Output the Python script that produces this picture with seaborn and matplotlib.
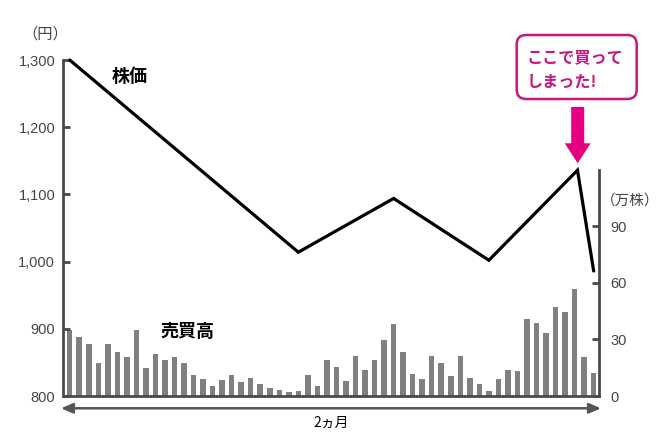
import numpy as np
import pandas as pd
import seaborn as sns
import matplotlib
matplotlib.use("Agg")
import matplotlib.pyplot as plt
from matplotlib.patches import FancyBboxPatch, FancyArrow
from matplotlib.transforms import IdentityTransform

# ---- data ----
price_x = [0, 24, 34, 44, 53.3, 55]
price = [1300, 1014, 1094, 1002, 1136, 986]
volume = [35.2, 31.3, 27.4, 17.7, 27.4, 23.5, 20.9, 35.2, 15.0, 22.1,
          19.3, 20.9, 17.7, 11.3, 9.0, 5.1, 8.3, 11.3, 7.4, 9.7,
          6.4, 4.2, 3.4, 2.1, 2.8, 11.0, 5.1, 18.9, 15.3, 7.8,
          21.4, 13.6, 18.9, 29.6, 38.1, 23.4, 11.5, 9.2, 21.4, 17.7,
          10.8, 21.4, 9.4, 6.4, 2.7, 8.8, 14.0, 13.1, 41.1, 38.6,
          33.5, 47.1, 44.8, 56.8, 20.5, 12.4]
price_ticks = [800, 900, 1000, 1100, 1200, 1300]
price_labels = ["800", "900", "1,000", "1,100", "1,200", "1,300"]
vol_ticks = [0, 30, 60, 90]
vol_labels = ["0", "30", "60", "90"]

sns.set_style("white")
plt.rcParams["font.family"] = ["Noto Sans CJK JP", "DejaVu Sans"]

W, H = 670, 447
fig = plt.figure(figsize=(W / 100, H / 100), dpi=100)


def fx(px):
    return px / W


def fy(py):
    return (H - py) / H


left_px, right_px, top_px, bot_px = 63.5, 599.3, 60, 396
ax = fig.add_axes([fx(left_px), fy(bot_px), fx(right_px) - fx(left_px), fy(top_px) - fy(bot_px)])
ax2 = ax.twinx()

spine_col = "#4a4a4a"
tick_col = "#444444"
bar_col = "#7f7f7f"

# volume bars
df_vol = pd.DataFrame({"i": np.arange(len(volume)), "v": volume})
sns.barplot(data=df_vol, x="i", y="v", ax=ax2, color=bar_col, width=0.58,
            saturation=1, native_scale=True, linewidth=0, edgecolor="none", zorder=1)

# price line
df_price = pd.DataFrame({"x": price_x, "p": price})
sns.lineplot(data=df_price, x="x", y="p", ax=ax, color="black", linewidth=2.3,
             zorder=5, clip_on=False)
ax.set_zorder(ax2.get_zorder() + 1)
ax.patch.set_visible(False)
for l in ax.lines:
    l.set_solid_joinstyle("miter")

xmin, xmax = -0.65, 55.59
ax.set_xlim(xmin, xmax)
ax2.set_xlim(xmin, xmax)
ax.set_ylim(800, 1300)
ax2.set_ylim(0, 178.4)

ax.set_xticks([])
ax2.set_xticks([])
ax.set_xlabel("")
ax.set_ylabel("")
ax2.set_xlabel("")
ax2.set_ylabel("")

ax.set_yticks(price_ticks)
ax.set_yticklabels(price_labels, fontfamily="Liberation Sans", fontsize=10.5, color=tick_col)
ax2.set_yticks(vol_ticks)
ax2.set_yticklabels(vol_labels, fontfamily="Liberation Sans", fontsize=10.5, color=tick_col)
ax.tick_params(axis="y", direction="in", length=5, width=2, color=spine_col, pad=6, left=True)
ax2.tick_params(axis="y", direction="in", length=5, width=2, color=spine_col, pad=8, right=True)

for a in (ax, ax2):
    for s in a.spines.values():
        s.set_visible(False)
ax.spines["left"].set_visible(True)
ax.spines["left"].set_color(spine_col)
ax.spines["left"].set_linewidth(2)
ax.spines["bottom"].set_visible(True)
ax.spines["bottom"].set_color(spine_col)
ax.spines["bottom"].set_linewidth(2)
ax2.spines["right"].set_visible(True)
ax2.spines["right"].set_color(spine_col)
ax2.spines["right"].set_linewidth(2)
ax2.spines["right"].set_bounds(0, 120)

# unit labels
fig.text(fx(45), fy(34), "（円）", ha="center", va="center", fontsize=11, color=tick_col)
fig.text(fx(601), fy(201), "（万株）", ha="left", va="center", fontsize=10.5, color=tick_col)

# series labels
fig.text(fx(130), fy(76), "株価", ha="center", va="center", fontsize=13, fontweight="bold", color="black")
fig.text(fx(187), fy(331), "売買高", ha="center", va="center", fontsize=13, fontweight="bold", color="black")

# bottom double arrow & period label
ay = H - 408.3
ax.annotate("", xy=(601, ay), xytext=(61, ay), xycoords="figure pixels",
            textcoords="figure pixels",
            arrowprops=dict(arrowstyle="<|-|>,head_length=0.7,head_width=0.3",
                            color="#555555", lw=1.8, shrinkA=0, shrinkB=0),
            annotation_clip=False)
fig.text(fx(331), fy(423), "2ヵ月", ha="center", va="center", fontsize=10, color="black")

# callout box
mag = "#c9177a"
bx0, by0, bx1, by1 = 516.7, 35, 636.7, 99
box = FancyBboxPatch((fx(bx0), fy(by1)), fx(bx1) - fx(bx0), fy(by0) - fy(by1),
                     boxstyle="round,pad=0,rounding_size=0.014",
                     transform=fig.transFigure, facecolor="white", edgecolor=mag,
                     linewidth=1.8, mutation_aspect=W / H)
fig.patches.append(box)
fig.text(fx(527), fy(57), "ここで買って", ha="left", va="center", fontsize=11.6,
         fontweight="bold", color=mag)
fig.text(fx(527), fy(82), "しまった!", ha="left", va="center", fontsize=11.6,
         fontweight="bold", color=mag)

# magenta pointer arrow (display pixels)
arr = FancyArrow(577.7, H - 107, 0, -(163.3 - 107), width=13, head_width=26,
                 head_length=20, length_includes_head=True,
                 transform=IdentityTransform(), color="#e4007f", linewidth=0)
fig.patches.append(arr)

fig.savefig("out.png", dpi=100)
